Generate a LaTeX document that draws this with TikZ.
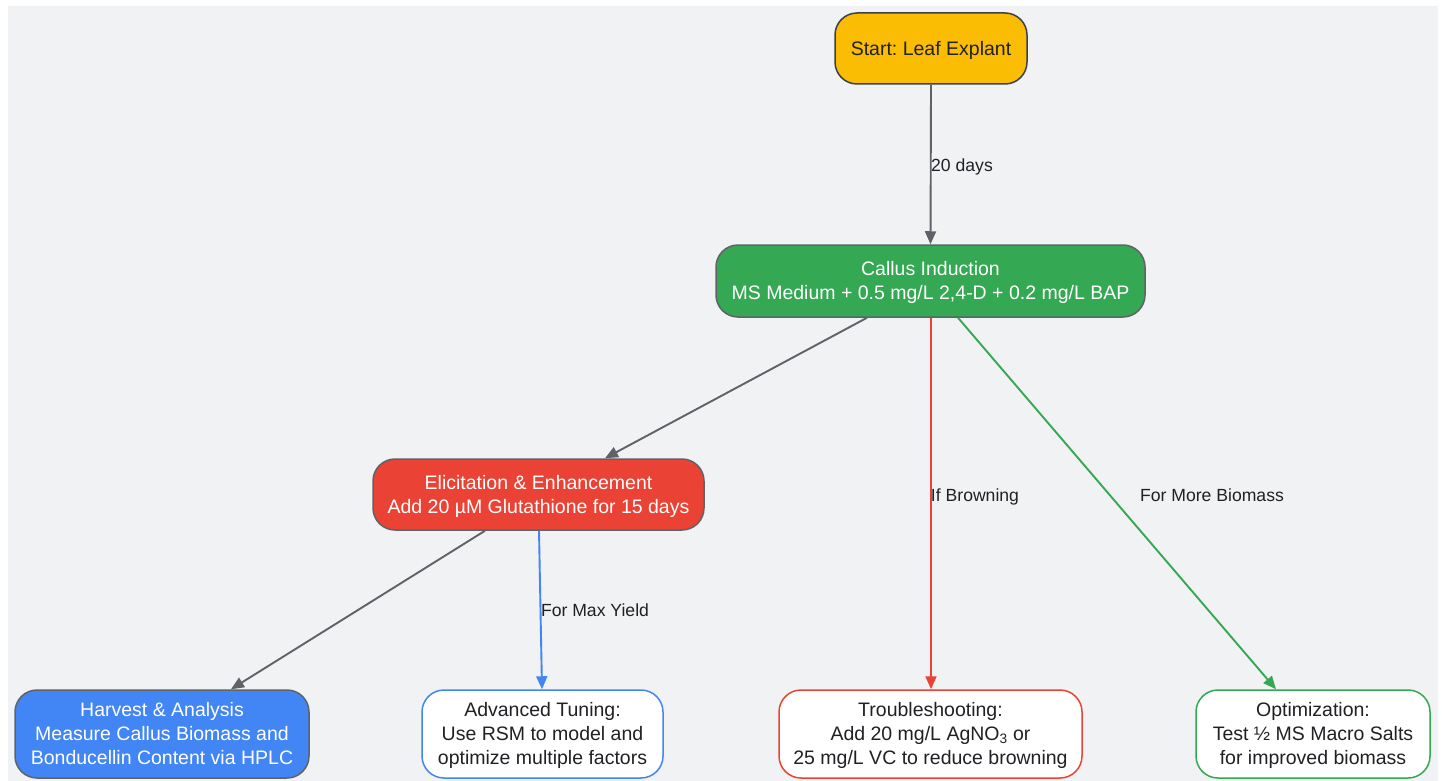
\documentclass[tikz,border=0pt]{standalone}
\usepackage{fontspec}
\setmainfont{Liberation Sans}
\usetikzlibrary{arrows.meta}
\frenchspacing
\definecolor{bgc}{HTML}{F1F2F4}
\definecolor{gyel}{HTML}{FBBC04}
\definecolor{ggrn}{HTML}{34A853}
\definecolor{gred}{HTML}{EA4335}
\definecolor{gblu}{HTML}{4285F4}
\definecolor{edgegray}{HTML}{5F6368}
\definecolor{darkb}{HTML}{3C4043}
\definecolor{txt}{HTML}{202124}
\newcommand\lowtext[1]{\raisebox{-2pt}[\height][\depth]{\begin{tabular}{@{}c@{}}#1\end{tabular}}}
\tikzset{
  box/.style={rounded corners=22pt, line width=1.5pt, align=center, inner sep=4pt,
    font=\fontsize{19.5}{24}\selectfont, text=txt},
  filled/.style={box, draw=edgegray, text=white},
  outlined/.style={box, fill=white, text=txt},
  conn/.style={line width=1.9pt, -{Triangle[length=13pt,width=11pt]}},
  lbl/.style={font=\fontsize{17.6}{20}\selectfont, text=txt, inner sep=0pt, text height=12pt, text depth=4pt}
}
\begin{document}
\frenchspacing
\begin{tikzpicture}[x=1pt,y=-1pt]
\useasboundingbox (0,0) rectangle (1442,781);
\fill[bgc] (8,6) rectangle (1438,781);

\node[box, fill=gyel, draw=darkb, minimum width=192pt, minimum height=71pt] (start) at (931,48.5) {\lowtext{Start: Leaf Explant}};
\node[filled, fill=ggrn, minimum width=429pt, minimum height=72pt] (callus) at (930.5,281) {\lowtext{Callus Induction\\MS Medium + 0.5 mg/L 2,4-D + 0.2 mg/L BAP}};
\node[filled, fill=gred, minimum width=331pt, minimum height=71pt] (elic) at (538.5,494.5) {\lowtext{Elicitation \& Enhancement\\Add 20 µM Glutathione for 15 days}};
\node[filled, fill=gblu, minimum width=294pt, minimum height=88pt] (harv) at (162,734) {\lowtext{Harvest \& Analysis\\Measure Callus Biomass and\\Bonducellin Content via HPLC}};
\node[outlined, draw=gblu, minimum width=241pt, minimum height=88pt] (adv) at (542.5,734) {\lowtext{Advanced Tuning:\\Use RSM to model and\\optimize multiple factors}};
\node[outlined, draw=gred, minimum width=303pt, minimum height=88pt] (trou) at (930.5,734) {\lowtext{Troubleshooting:\\Add 20 mg/L AgNO\textsubscript{3} or\\25 mg/L VC to reduce browning}};
\node[outlined, draw=ggrn, minimum width=234pt, minimum height=88pt] (opt) at (1313,734) {\lowtext{Optimization:\\Test ½ MS Macro Salts\\for improved biomass}};

\draw[conn, edgegray] (start.south) -- (callus.north);
\draw[conn, edgegray] ([xshift=-63.5pt]callus.south) -- ([xshift=66.5pt]elic.north);
\draw[conn, gred] ([xshift=0.5pt]callus.south) -- ([xshift=0.5pt]trou.north);
\draw[conn, ggrn] ([xshift=27.5pt]callus.south) -- ([xshift=-37pt]opt.north);
\draw[conn, edgegray] ([xshift=-53.5pt]elic.south) -- ([xshift=69pt]harv.north);
\draw[conn, gblu] ([xshift=0.5pt]elic.south) -- ([xshift=-0.5pt]adv.north);

\node[lbl] (l1) at (962,167.3) {20 days};
\node[lbl] (l2) at (975,497.3) {If Browning};
\node[lbl] (l3) at (1212,497.3) {For More Biomass};
\node[lbl] (l4) at (595,612.3) {For Max Yield};
\end{tikzpicture}
\end{document}
